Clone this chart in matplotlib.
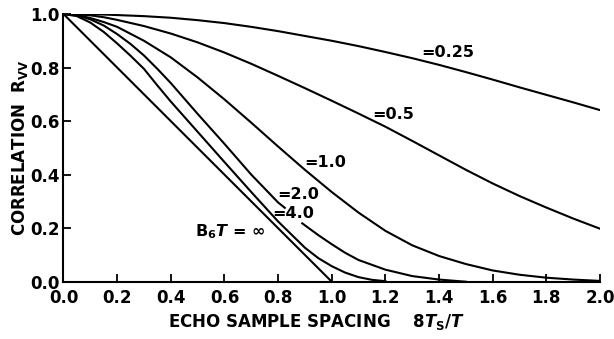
import numpy as np
import matplotlib
matplotlib.use("Agg")
import matplotlib.pyplot as plt

# values
x_grid = [0.0, 0.05, 0.1, 0.15, 0.2, 0.3, 0.4, 0.5, 0.6, 0.7, 0.8, 0.9, 1.0,
          1.1, 1.2, 1.3, 1.4, 1.5, 1.6, 1.7, 1.8, 1.9, 2.0]
r_025 = [1.0, 1.0, 0.999, 0.998, 0.996, 0.992, 0.986, 0.977, 0.966, 0.952, 0.936, 0.918, 0.9,
         0.88, 0.858, 0.835, 0.81, 0.783, 0.755, 0.726, 0.698, 0.67, 0.641]
r_05 = [1.0, 0.999, 0.995, 0.988, 0.978, 0.955, 0.927, 0.894, 0.856, 0.814, 0.769, 0.723, 0.676,
        0.628, 0.579, 0.526, 0.472, 0.418, 0.367, 0.32, 0.277, 0.236, 0.198]
r_10 = [1.0, 0.996, 0.985, 0.97, 0.952, 0.9, 0.838, 0.763, 0.681, 0.594, 0.505, 0.418, 0.335,
        0.258, 0.19, 0.136, 0.096, 0.066, 0.042, 0.026, 0.015, 0.008, 0.003]

# B6T = 2.0 is broken where the "=4.0" label sits
x_20 = [0.0, 0.05, 0.1, 0.15, 0.2, 0.25, 0.3, 0.35, 0.4, 0.5, 0.6, 0.7, 0.8, 0.825, 0.85,
        0.89, 0.95, 1.0, 1.05, 1.1, 1.2, 1.3, 1.4, 1.5]
r_20 = [1.0, 0.995, 0.98, 0.957, 0.925, 0.888, 0.845, 0.795, 0.742, 0.627, 0.515, 0.40, 0.296,
        0.276, np.nan, 0.218, 0.174, 0.14, 0.108, 0.081, 0.045, 0.021, 0.008, 0.0]

x_40 = [0.0, 0.05, 0.1, 0.15, 0.2, 0.25, 0.3, 0.35, 0.4, 0.5, 0.6, 0.7, 0.8, 0.9, 0.95,
        1.0, 1.05, 1.1, 1.15, 1.2]
r_40 = [1.0, 0.992, 0.968, 0.933, 0.89, 0.844, 0.795, 0.733, 0.673, 0.56, 0.447, 0.335, 0.225,
        0.127, 0.088, 0.058, 0.034, 0.017, 0.007, 0.002]

x_inf = [0.0, 0.2, 0.4, 0.6, 0.8, 1.0]
r_inf = [1.0, 0.8, 0.6, 0.4, 0.2, 0.0]

curve_labels = ["=0.25", "=0.5", "=1.0", "=2.0", "=4.0", "B$_6$$\\mathit{T}$ = \u221e"]
label_pos = [(1.433, 0.858), (1.228, 0.623), (0.975, 0.447),
             (0.874, 0.324), (0.856, 0.253), (0.62, 0.186)]

x_ticks = [0.0, 0.2, 0.4, 0.6, 0.8, 1.0, 1.2, 1.4, 1.6, 1.8, 2.0]
y_ticks = [0.0, 0.2, 0.4, 0.6, 0.8, 1.0]

plt.rcParams['font.family'] = ['DejaVu Sans']
plt.rcParams['font.weight'] = 'bold'
plt.rcParams['mathtext.default'] = 'regular'

fig = plt.figure(figsize=(6.14, 3.39), dpi=100)
ax = fig.add_axes([0.1034, 0.169, 0.8738, 0.7897])

lw = 1.5
ax.plot(x_grid, r_025, color='black', lw=lw)
ax.plot(x_grid, r_05, color='black', lw=lw)
ax.plot(x_grid, r_10, color='black', lw=lw)
ax.plot(x_20, r_20, color='black', lw=lw)
ax.plot(x_40, r_40, color='black', lw=lw)
ax.plot(x_inf, r_inf, color='black', lw=lw)

for txt, (tx, ty) in zip(curve_labels, label_pos):
    ax.text(tx, ty, txt, ha='center', va='center', fontsize=11.5, fontweight='bold')

ax.set_xlim(0, 2.0)
ax.set_ylim(0, 1.0)
ax.set_xticks(x_ticks)
ax.set_yticks(y_ticks)
ax.set_xticklabels(["%.1f" % v for v in x_ticks])
ax.set_yticklabels(["%.1f" % v for v in y_ticks])

for s in ['top', 'right']:
    ax.spines[s].set_visible(False)
for s in ['left', 'bottom']:
    ax.spines[s].set_linewidth(1.5)

ax.tick_params(direction='in', length=6, width=1.3, labelsize=12)
ax.tick_params(axis='x', pad=5)
ax.tick_params(axis='y', pad=3)

ax.set_ylabel("CORRELATION  R$_{VV}$", fontsize=12, fontweight='bold', labelpad=0)
fig.text(0.515, 0.05, "ECHO SAMPLE SPACING    8$\\mathit{T}_S$/$\\mathit{T}$", ha='center', va='center',
         fontsize=12, fontweight='bold')

fig.savefig("out.png", dpi=100)
